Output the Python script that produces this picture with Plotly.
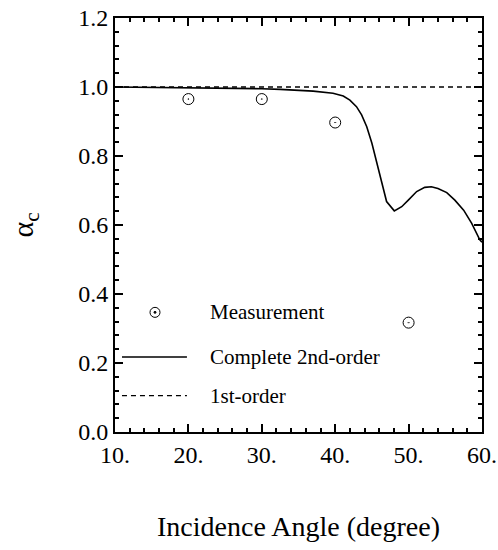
import plotly.graph_objects as go

# Measured absorption coefficient at the tested incidence angles
meas_angle = [20, 30, 40, 50]
meas_alpha = [0.965, 0.965, 0.897, 0.317]

# Complete second-order prediction
theory_angle = [10, 15, 20, 25, 30, 32.5, 35, 37, 39.7, 41.1, 42.0, 42.9, 43.6, 44.3,
                45.0, 45.7, 46.3, 47.0, 48.05, 49.06, 49.96, 51.1, 52.2, 53.1, 54.0,
                55.2, 56.3, 57.5, 58.6, 59.7, 60]
theory_alpha = [1.0, 0.999, 0.998, 0.996, 0.995, 0.993, 0.991, 0.988, 0.982, 0.974,
                0.962, 0.943, 0.919, 0.885, 0.837, 0.779, 0.721, 0.668, 0.641, 0.653,
                0.672, 0.697, 0.709, 0.711, 0.706, 0.694, 0.672, 0.643, 0.605, 0.557,
                0.55]

# First-order prediction
first_angle = [10, 60]
first_alpha = [1.0, 1.0]

x_ticks = [10, 20, 30, 40, 50, 60]
x_ticktext = ["10.", "20.", "30.", "40.", "50.", "60."]
y_ticks = [0.0, 0.2, 0.4, 0.6, 0.8, 1.0, 1.2]
y_ticktext = ["0.0", "0.2", "0.4", "0.6", "0.8", "1.0", "1.2"]

legend_labels = ["Measurement", "Complete 2nd-order", "1st-order"]

FONT = "Liberation Serif"
INK = "black"

fig = go.Figure()
fig.add_trace(go.Scatter(x=first_angle, y=first_alpha, mode="lines",
                         line=dict(color=INK, width=1.3, dash="5px,4px"),
                         showlegend=False))
fig.add_trace(go.Scatter(x=theory_angle, y=theory_alpha, mode="lines",
                         line=dict(color=INK, width=1.6),
                         showlegend=False))
fig.add_trace(go.Scatter(x=meas_angle, y=meas_alpha, mode="markers",
                         marker=dict(symbol="circle-open-dot", size=11, color=INK,
                                     line=dict(color=INK, width=1)),
                         showlegend=False))

axis_common = dict(
    showgrid=False, zeroline=False, showline=True, linecolor=INK, linewidth=2,
    mirror="ticks", ticks="inside", ticklen=8, tickwidth=1.5, tickcolor=INK,
    tickfont=dict(family=FONT, size=24, color=INK), automargin=False,
)

fig.update_xaxes(range=[10, 60], tickvals=x_ticks, ticktext=x_ticktext,
                 minor=dict(dtick=2, ticks="inside", ticklen=4, tickwidth=1.5,
                            tickcolor=INK, showgrid=False),
                 title=dict(text="Incidence Angle (degree)",
                            font=dict(family=FONT, size=28, color=INK), standoff=50),
                 **axis_common)
fig.update_yaxes(range=[0, 1.2], tickvals=y_ticks, ticktext=y_ticktext,
                 minor=dict(dtick=0.04, ticks="inside", ticklen=4, tickwidth=1.5,
                            tickcolor=INK, showgrid=False),
                 title=dict(text="α<sub>c</sub>",
                            font=dict(family=FONT, size=30, color=INK), standoff=36),
                 **axis_common)

# Hand-placed key in the lower-left part of the plot
key_y = [0.289, 0.181, 0.088]
shapes = [
    dict(type="circle", xref="paper", yref="paper", xsizemode="pixel", ysizemode="pixel",
         xanchor=0.109, yanchor=key_y[0], x0=-5, x1=5, y0=-5, y1=5,
         line=dict(color=INK, width=1)),
    dict(type="circle", xref="paper", yref="paper", xsizemode="pixel", ysizemode="pixel",
         xanchor=0.109, yanchor=key_y[0], x0=-1, x1=1, y0=-1, y1=1,
         line=dict(color=INK, width=1), fillcolor=INK),
    dict(type="line", xref="paper", yref="paper", x0=0.019, x1=0.196,
         y0=key_y[1], y1=key_y[1], line=dict(color=INK, width=1.6)),
    dict(type="line", xref="paper", yref="paper", x0=0.019, x1=0.196,
         y0=key_y[2], y1=key_y[2], line=dict(color=INK, width=1.3, dash="5px,4px")),
]
annotations = [
    dict(text=lab, xref="paper", yref="paper", x=0.253, y=yy, xanchor="left",
         yanchor="middle", showarrow=False,
         font=dict(family=FONT, size=21, color=INK))
    for lab, yy in zip(legend_labels, key_y)
]

fig.update_layout(
    width=498, height=550,
    margin=dict(l=115, r=16, t=18, b=118),
    paper_bgcolor="white", plot_bgcolor="white",
    shapes=shapes, annotations=annotations,
    showlegend=False,
)

fig.write_html("out.html")
